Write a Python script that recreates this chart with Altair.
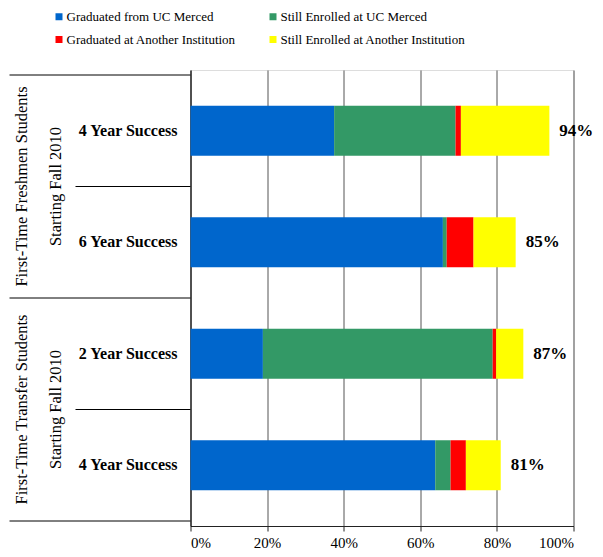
import altair as alt
import pandas as pd

# ---- data ----
categories = ["4 Year Success", "6 Year Success", "2 Year Success", "4 Year Success"]
category_group = [0, 0, 1, 1]
groups = ["First-Time Freshmen Students", "First-Time Transfer  Students"]
group_subtitle = "Starting Fall 2010"

series = ["Graduated from UC Merced", "Still Enrolled at UC Merced",
          "Graduated at Another Institution", "Still Enrolled at Another Institution"]
colors = ["#0066CC", "#339966", "#FF0000", "#FFFF00"]

graduated_merced = [37.5, 65.9, 18.9, 63.9]
enrolled_merced = [31.7, 1.0, 60.0, 4.0]
graduated_other = [1.4, 7.0, 0.9, 4.0]
enrolled_other = [23.1, 11.0, 7.1, 9.1]
total_labels = ["94%", "85%", "87%", "81%"]

x_ticks = [0, 20, 40, 60, 80, 100]

# ---- build tables ----
values = [graduated_merced, enrolled_merced, graduated_other, enrolled_other]
rows = []
for i, cat in enumerate(categories):
    start = 0.0
    for s, vals in zip(series, values):
        rows.append({"pos": i, "category": cat, "series": s,
                     "start": start, "end": start + vals[i]})
        start += vals[i]
bars_df = pd.DataFrame(rows)

totals_df = pd.DataFrame({
    "pos": list(range(len(categories))),
    "total": [sum(v[i] for v in values) for i in range(len(categories))],
    "label": total_labels,
    "category": categories,
})

group_df = pd.DataFrame({
    "group": groups,
    "center": [sum(p for p, g in enumerate(category_group) if g == k) /
               category_group.count(k) for k in range(len(groups))],
    "subtitle": [group_subtitle] * len(groups),
})

# separators: group boundaries (long) and within-group boundaries (short)
long_lines, short_lines = [], []
n = len(categories)
long_lines.append(-0.5)
for i in range(n - 1):
    if category_group[i] != category_group[i + 1]:
        long_lines.append(i + 0.5)
    else:
        short_lines.append(i + 0.5)
long_lines.append(n - 0.5)
long_df = pd.DataFrame({"y": long_lines})
short_df = pd.DataFrame({"y": short_lines})

SERIF = "Liberation Serif"

yscale = alt.Scale(domain=[-0.5, n - 0.5], reverse=True, nice=False, zero=False)

bars = alt.Chart(bars_df).mark_bar(size=50, orient="horizontal").encode(
    x=alt.X("start:Q", scale=alt.Scale(domain=[0, 100], nice=False),
            axis=alt.Axis(values=x_ticks, labelExpr="datum.value + '%'", title=None,
                          grid=True, gridColor="#555555", gridWidth=1,
                          domainColor="#222222", tickColor="#222222", tickSize=5,
                          labelFont=SERIF, labelFontSize=15, labelColor="black",
                          labelPadding=4)),
    x2="end:Q",
    y=alt.Y("pos:Q", scale=yscale,
            axis=alt.Axis(labels=False, ticks=False, grid=False, title=None,
                          domainColor="black")),
    color=alt.Color("series:N", scale=alt.Scale(domain=series, range=colors),
                    sort=series,
                    legend=alt.Legend(orient="none", legendX=-138, legendY=-60,
                                      direction="horizontal",
                                      columns=2, title=None, symbolType="square",
                                      symbolSize=49, symbolStrokeWidth=0,
                                      labelFont=SERIF, labelFontSize=13,
                                      labelColor="black", labelOffset=1,
                                      labelLimit=400,
                                      columnPadding=30, rowPadding=9, padding=0)),
)

total_text = alt.Chart(totals_df).mark_text(
    align="left", baseline="middle", dx=10, font=SERIF, fontSize=17,
    fontWeight="bold", color="black").encode(
    x="total:Q", y=alt.Y("pos:Q", scale=yscale), text="label:N")

cat_text = alt.Chart(totals_df).mark_text(
    align="right", baseline="middle", font=SERIF, fontSize=16,
    fontWeight="bold", color="black").encode(
    x=alt.value(-13), y=alt.Y("pos:Q", scale=yscale), text="category:N")

group_text = alt.Chart(group_df).mark_text(
    align="center", baseline="middle", angle=270, font=SERIF, fontSize=16.5,
    color="black").encode(
    x=alt.value(-169), y=alt.Y("center:Q", scale=yscale), text="group:N")

sub_text = alt.Chart(group_df).mark_text(
    align="center", baseline="middle", angle=270, font=SERIF, fontSize=16.5,
    color="black").encode(
    x=alt.value(-135), y=alt.Y("center:Q", scale=yscale), text="subtitle:N")

long_rules = alt.Chart(long_df).mark_rule(color="black", strokeWidth=1).encode(
    x=alt.value(-181), x2=alt.value(0), y=alt.Y("y:Q", scale=yscale))

short_rules = alt.Chart(short_df).mark_rule(color="black", strokeWidth=1).encode(
    x=alt.value(-115), x2=alt.value(0), y=alt.Y("y:Q", scale=yscale))

chart = alt.layer(bars, total_text, cat_text, group_text, sub_text,
                  long_rules, short_rules).properties(
    width=383, height=456,
    autosize="none",
    padding={"left": 182.5, "top": 62, "right": 21, "bottom": 23},
).configure_view(stroke=None).configure(background="white", font=SERIF)

chart.save("out.html", embed_options={"renderer": "svg", "actions": False})
